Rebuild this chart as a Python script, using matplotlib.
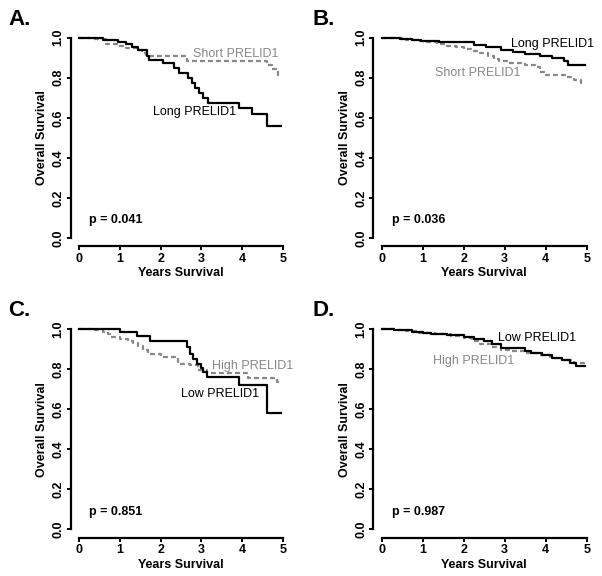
import matplotlib
matplotlib.use("Agg")
import matplotlib.pyplot as plt

plt.rcParams['font.family']=['Liberation Sans','DejaVu Sans']

# panel A: PRELID1 length
a_long_t=[0.6,0.95,1.15,1.3,1.45,1.66,1.72,2.05,2.32,2.45,2.68,2.78,2.85,2.95,3.05,3.15,3.93,4.25,4.62]
a_long_s=[0.99,0.98,0.97,0.955,0.94,0.91,0.89,0.873,0.85,0.826,0.80,0.775,0.75,0.725,0.70,0.675,0.648,0.62,0.56]
a_short_t=[0.3,0.65,0.95,1.15,1.45,1.55,1.65,2.64,4.6,4.72,4.88]
a_short_s=[0.995,0.97,0.96,0.95,0.94,0.925,0.907,0.884,0.862,0.842,0.815]

# panel B
b_long_t=[0.45,0.75,0.95,1.4,2.25,2.55,2.9,3.2,3.5,3.85,4.15,4.45,4.55]
b_long_s=[0.995,0.99,0.983,0.977,0.965,0.952,0.94,0.93,0.92,0.91,0.897,0.883,0.862]
b_short_t=[0.3,0.6,0.85,1.1,1.35,1.6,1.8,2.0,2.2,2.4,2.6,2.75,2.85,3.1,3.5,3.75,3.85,4.0,4.5,4.7,4.85]
b_short_s=[0.997,0.99,0.985,0.977,0.97,0.96,0.952,0.942,0.932,0.922,0.908,0.895,0.882,0.872,0.865,0.855,0.83,0.815,0.805,0.79,0.775]

# panel C: PRELID1 expression
c_low_t=[1.0,1.41,1.74,2.64,2.72,2.8,2.88,2.98,3.05,3.13,3.93,4.62]
c_low_s=[0.985,0.965,0.94,0.91,0.877,0.852,0.827,0.805,0.785,0.76,0.718,0.58]
c_high_t=[0.15,0.4,0.6,0.7,0.75,1.0,1.2,1.33,1.45,1.58,1.7,2.0,2.43,2.72,2.92,3.13,4.15,4.85]
c_high_s=[0.998,0.993,0.985,0.975,0.96,0.948,0.94,0.93,0.915,0.895,0.875,0.86,0.827,0.818,0.797,0.78,0.755,0.735]

# panel D
d_low_t=[0.3,0.5,0.75,1.0,1.2,1.6,2.0,2.25,2.5,2.7,2.9,3.5,3.65,3.9,4.15,4.4,4.6,4.75]
d_low_s=[0.997,0.993,0.987,0.98,0.975,0.968,0.96,0.952,0.94,0.925,0.905,0.89,0.88,0.868,0.856,0.843,0.828,0.815]
d_high_t=[0.4,0.6,0.9,1.3,1.7,2.0,2.2,2.4,2.7,2.9,3.1,3.5,3.8,4.1,4.4,4.7]
d_high_s=[0.995,0.99,0.982,0.975,0.965,0.955,0.94,0.925,0.91,0.895,0.888,0.88,0.868,0.857,0.843,0.83]

tend=4.96
letters=["A.","B.","C.","D."]
pvals=["p = 0.041","p = 0.036","p = 0.851","p = 0.987"]
black_names=["Long PRELID1","Long PRELID1","Low PRELID1","Low PRELID1"]
gray_names=["Short PRELID1","Short PRELID1","High PRELID1","High PRELID1"]
blacks=[(a_long_t,a_long_s),(b_long_t,b_long_s),(c_low_t,c_low_s),(d_low_t,d_low_s)]
grays=[(a_short_t,a_short_s),(b_short_t,b_short_s),(c_high_t,c_high_s),(d_high_t,d_high_s)]
# label spots (data coords): black label, gray label
black_pos=[(1.82,0.63),(3.15,0.967),(2.49,0.674),(2.84,0.957)]
gray_pos=[(2.79,0.917),(1.30,0.822),(3.27,0.817),(1.24,0.84)]

W,H=602,576
fig=plt.figure(figsize=(6.02,5.76),dpi=100)
boxes=[(79,238,204,200.3),(381.7,238,205,200.3),(79,529.3,204,200.3),(381.7,529.3,205,200.3)]
letterpos=[(8,25),(313,25),(8,316),(313,316)]
gray="#888888"

def steps(t,s):
	xs=[0.0]
	ys=[1.0]
	for ti,si in zip(t,s):
		xs+=[ti,ti]
		ys+=[ys[-1],si]
	xs.append(tend)
	ys.append(ys[-1])
	return xs,ys

for i in range(4):
	x0,y0,w,h=boxes[i]
	ax=fig.add_axes([x0/W,(H-y0)/H,w/W,h/H])
	gx,gy=steps(*grays[i])
	ax.plot(gx,gy,color=gray,lw=1.6,ls=(0,(2.2,1.4)),clip_on=False)
	bx,by=steps(*blacks[i])
	ax.plot(bx,by,color="black",lw=1.6,clip_on=False)
	ax.set_xlim(0,5)
	ax.set_ylim(0,1)
	for sp in ["top","right"]: ax.spines[sp].set_visible(False)
	ax.spines["left"].set_position(("outward",6))
	ax.spines["bottom"].set_position(("outward",6))
	ax.spines["left"].set_bounds(0,1)
	ax.spines["bottom"].set_bounds(0,5)
	for sp in ["left","bottom"]: ax.spines[sp].set_linewidth(1.6)
	ax.set_xticks(range(6))
	ax.set_yticks([0,0.2,0.4,0.6,0.8,1.0])
	ax.set_yticklabels(["0.0","0.2","0.4","0.6","0.8","1.0"],rotation=90,va="center")
	ax.tick_params(width=1.4,length=3,labelsize=9,pad=1.5)
	for lb in ax.get_xticklabels()+ax.get_yticklabels(): lb.set_fontweight("bold")
	ax.set_xlabel("Years Survival",fontsize=9,fontweight="bold",labelpad=2)
	ax.set_ylabel("Overall Survival",fontsize=9,fontweight="bold",labelpad=3)
	ax.text(0.25,0.088,pvals[i],fontsize=9,fontweight="bold",va="center")
	ax.text(black_pos[i][0],black_pos[i][1],black_names[i],fontsize=9,color="black",va="center")
	ax.text(gray_pos[i][0],gray_pos[i][1],gray_names[i],fontsize=9,color=gray,va="center")
	lx,ly=letterpos[i]
	fig.text(lx/W,1-ly/H,letters[i],fontsize=16,fontweight="bold",va="baseline")

fig.savefig("out.png",dpi=100)
